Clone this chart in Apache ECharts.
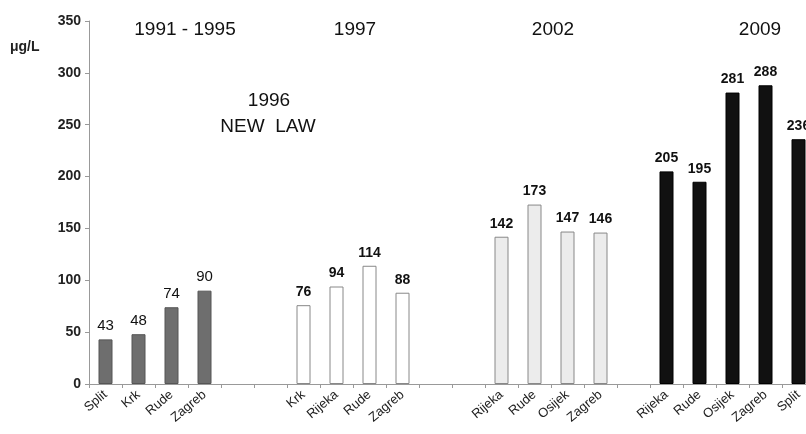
<!DOCTYPE html>
<html>
<head>
<meta charset="utf-8">
<script src="https://cdn.jsdelivr.net/npm/echarts@6/dist/echarts.min.js"></script>
<style>html,body{margin:0;padding:0;background:#fff;overflow:hidden;}#c{width:830px;height:434px;}</style>
</head>
<body>
<div id="c"></div>
<script>
var categories = ['Split','Krk','Rude','Zagreb','','','Krk','Rijeka','Rude','Zagreb','','','Rijeka','Rude','Osijek','Zagreb','','Rijeka','Rude','Osijek','Zagreb','Split'];
var values1991 = [43,48,74,90];
var values1997 = [76,94,114,88];
var values2002 = [142,173,147,146];
var values2009 = [205,195,281,288,236];
var groupStarts = [0,6,12,17];
var periodLabels = ['1991 - 1995','1997','2002','2009'];

function place(vals, start){
  var arr = categories.map(function(){return null;});
  vals.forEach(function(v,i){arr[start+i]=v;});
  return arr;
}
var FONT = '"Liberation Sans", Arial, sans-serif';
function ser(vals, start, color, border, bold, fs){
  return {
    type:'bar', barWidth:14, barGap:'-100%',
    data: place(vals,start),
    itemStyle:{color:color, borderColor:border, borderWidth:1},
    label:{show:true, position:'top', distance:6, color:'#111', fontFamily:FONT,
      fontWeight: bold?'bold':'normal', fontSize:fs}
  };
}
var chart = echarts.init(document.getElementById('c'));
chart.setOption({
  animation:false,
  grid:{left:89, top:21, bottom:50, width:726},
  xAxis:{type:'category', data:categories,
    axisLine:{lineStyle:{color:'#999'}},
    axisTick:{show:true, length:4, lineStyle:{color:'#999'}},
    axisLabel:{interval:0, rotate:40, fontSize:13, color:'#222', fontFamily:FONT, margin:9}},
  yAxis:{type:'value', min:0, max:350, interval:50,
    axisLine:{show:true, lineStyle:{color:'#999'}},
    axisTick:{show:true, length:4, lineStyle:{color:'#999'}},
    splitLine:{show:false},
    axisLabel:{fontSize:14, fontWeight:'bold', color:'#222', fontFamily:FONT, margin:8}},
  series:[
    ser(values1991, groupStarts[0], '#6e6e6e', '#555', false, 15),
    ser(values1997, groupStarts[1], '#ffffff', '#888', true, 14),
    ser(values2002, groupStarts[2], '#ececec', '#888', true, 14),
    ser(values2009, groupStarts[3], '#111111', '#000', true, 14)
  ],
  graphic:[
    {type:'text', left:10, top:40, style:{text:'μg/L', font:'bold 14px '+FONT, fill:'#222'}},
    {type:'text', x:185, y:30, style:{text:periodLabels[0], font:'19px '+FONT, fill:'#111', textAlign:'center', textVerticalAlign:'middle'}},
    {type:'text', x:355, y:30, style:{text:periodLabels[1], font:'19px '+FONT, fill:'#111', textAlign:'center', textVerticalAlign:'middle'}},
    {type:'text', x:553, y:30, style:{text:periodLabels[2], font:'19px '+FONT, fill:'#111', textAlign:'center', textVerticalAlign:'middle'}},
    {type:'text', x:760, y:30, style:{text:periodLabels[3], font:'19px '+FONT, fill:'#111', textAlign:'center', textVerticalAlign:'middle'}},
    {type:'text', x:269, y:101, style:{text:'1996', font:'19px '+FONT, fill:'#111', textAlign:'center', textVerticalAlign:'middle'}},
    {type:'text', x:268, y:127, style:{text:'NEW  LAW', font:'19px '+FONT, fill:'#111', textAlign:'center', textVerticalAlign:'middle'}}
  ]
});
</script>
</body>
</html>
